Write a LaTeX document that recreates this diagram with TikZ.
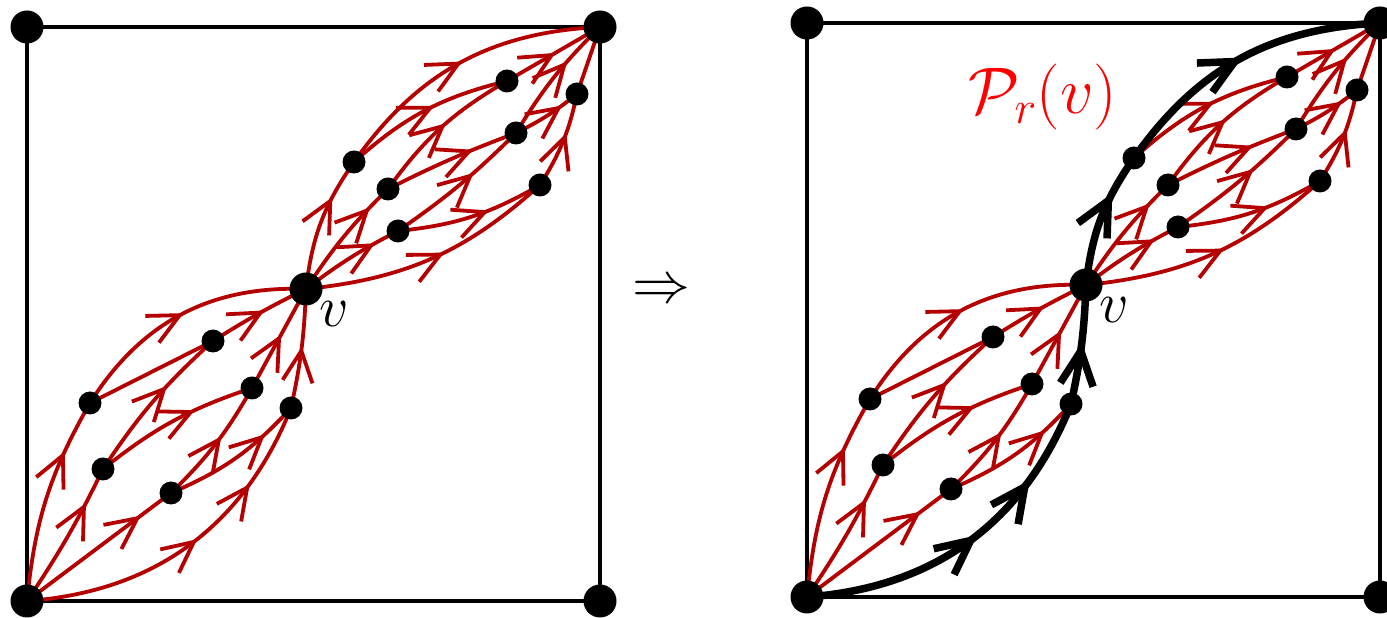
\documentclass[tikz,border=0pt]{standalone}
\usepackage{fix-cm}
\usetikzlibrary{arrows.meta,decorations.markings}
\definecolor{edgered}{RGB}{180,0,0}
\definecolor{labelred}{RGB}{255,0,0}
\pgfdeclarelayer{back}
\pgfsetlayers{back,main}
\tikzset{
  bigdot/.style={circle,fill=black,inner sep=0pt,minimum size=33pt},
  smalldot/.style={circle,fill=black,inner sep=0pt,minimum size=23pt},
  rtip/.tip={Straight Barb[length=31pt,width=30pt,line width=3.8pt,color=edgered]},
  btip/.tip={Straight Barb[length=34pt,width=33pt,line width=7.5pt,color=black]},
  re/.style={draw=edgered,line width=3.8pt,postaction={decorate},
    decoration={markings,mark=at position #1 with {\arrow{rtip}}}},
  rplain/.style={draw=edgered,line width=3.8pt},
  re2/.style 2 args={draw=edgered,line width=3.8pt,postaction={decorate},
    decoration={markings,mark=at position #1 with {\arrow{rtip}},mark=at position #2 with {\arrow{rtip}}}},
  be/.style={draw=black,line width=7.5pt,postaction={decorate},
    decoration={markings,mark=at position #1 with {\arrow{btip}}}},
  be2/.style 2 args={draw=black,line width=7.5pt,postaction={decorate},
    decoration={markings,mark=at position #1 with {\arrow{btip}},mark=at position #2 with {\arrow{btip}}}},
  squareframe/.style={draw=black,line width=3.8pt},
  bigtext/.style={font=\fontsize{58}{60}\selectfont,inner sep=0pt},
}
\newcommand\lensnodes[3]{%
\begin{scope}[shift={(#2,#3)}]
  \node[bigdot] (#1-A) at (27,17) {};
  \node[bigdot] (#1-B) at (600,591) {};
  \node[bigdot] (#1-TL) at (27,591) {};
  \node[bigdot] (#1-BR) at (600,17) {};
  \node[bigdot] (#1-v) at (306,329) {};
  \node[smalldot] (#1-a1) at (90,215) {};
  \node[smalldot] (#1-a2) at (213,277) {};
  \node[smalldot] (#1-b1) at (103,149) {};
  \node[smalldot] (#1-b2) at (252,230) {};
  \node[smalldot] (#1-c1) at (171,125) {};
  \node[smalldot] (#1-c2) at (291,210) {};
  \node[smalldot] (#1-p1) at (354,456) {};
  \node[smalldot] (#1-p2) at (388,429) {};
  \node[smalldot] (#1-p3) at (398,387) {};
  \node[smalldot] (#1-q1) at (507,537) {};
  \node[smalldot] (#1-q2) at (516,485) {};
  \node[smalldot] (#1-r3) at (540,433) {};
  \node[smalldot] (#1-r2) at (577,524) {};
  \node[bigtext] (#1-lab) at (334,304) {$v$};
\end{scope}}
\newcommand\commonedges[1]{%
  \draw[squareframe] (#1-A.center) -- (#1-BR.center) -- (#1-B.center) -- (#1-TL.center) -- cycle;
  \draw[re=0.74] (#1-A.center) to[bend left=12] (#1-a1.center);
  \draw[re=0.51] (#1-a1.center) to[bend left=30] (#1-v.center);
  \draw[rplain] (#1-a1.center) -- (#1-a2.center);
  \draw[re=0.56] (#1-a2.center) to[bend left=3] (#1-v.center);
  \draw[re=0.75] (#1-A.center) to[bend right=4] (#1-b1.center);
  \draw[re=0.62] (#1-b1.center) to[bend left=7] (#1-a2.center);
  \draw[re=0.64] (#1-b1.center) to[bend left=10] (#1-b2.center);
  \draw[re=0.54] (#1-b2.center) -- (#1-v.center);
  \draw[re=0.79] (#1-A.center) -- (#1-c1.center);
  \draw[re=0.57] (#1-c1.center) to[bend right=8] (#1-b2.center);
  \draw[re=0.75] (#1-c1.center) to[bend right=12] (#1-c2.center);
  \draw[re=0.56] (#1-p1.center) to[bend left=14] (#1-q1.center);
  \draw[re=0.80] (#1-v.center) to[bend left=6] (#1-p2.center);
  \draw[re=0.54] (#1-p2.center) to[bend left=12] (#1-q1.center);
  \draw[re=0.67] (#1-p2.center) to[bend left=3] (#1-q2.center);
  \draw[re=0.76] (#1-v.center) to[bend left=5] (#1-p3.center);
  \draw[re=0.62] (#1-p3.center) to[bend right=5] (#1-q2.center);
  \draw[re=0.62] (#1-p3.center) to[bend right=12] (#1-r3.center);
  \draw[re=0.55] (#1-v.center) to[bend right=18] (#1-r3.center);
  \draw[re=0.52] (#1-q1.center) -- (#1-B.center);
  \draw[re=0.65] (#1-q2.center) to[bend left=7] (#1-B.center);
  \draw[re=0.74] (#1-q2.center) to[bend right=6] (#1-r2.center);
  \draw[re=0.59] (#1-r3.center) to[bend right=10] (#1-r2.center);
  \draw[rplain] (#1-r2.center) -- (#1-B.center);
}
\begin{document}
\begin{tikzpicture}[x=1pt,y=1pt]
  \useasboundingbox (0,0) rectangle (1387,618);
  \lensnodes{L}{0}{0}
  \lensnodes{R}{780}{4}
  \node[bigtext] (imp) at (661,326) {$\Rightarrow$};
  \node[font=\fontsize{66}{70}\selectfont,text=labelred,inner sep=0pt] (plab) at (1043,521) {$\mathcal{P}_r(v)$};
  \begin{pgfonlayer}{back}
    \commonedges{L}
    \commonedges{R}
    % left panel: these edges are red
    \draw[re2={0.53}{0.75}] (L-A.center) to[bend right=32] (L-c2.center);
    \draw[re=0.52] (L-c2.center) to[bend right=5] (L-v.center);
    \draw[re=0.70] (L-v.center) to[bend left=14] (L-p1.center);
    \draw[re=0.51] (L-p1.center) to[bend left=26] (L-B.center);
    % right panel: the same edges form the black path
    \draw[be2={0.53}{0.75}] (R-A.center) to[bend right=32] (R-c2.center);
    \draw[be=0.52] (R-c2.center) to[bend right=5] (R-v.center);
    \draw[be=0.70] (R-v.center) to[bend left=14] (R-p1.center);
    \draw[be=0.51] (R-p1.center) to[bend left=26] (R-B.center);
  \end{pgfonlayer}
\end{tikzpicture}
\end{document}
